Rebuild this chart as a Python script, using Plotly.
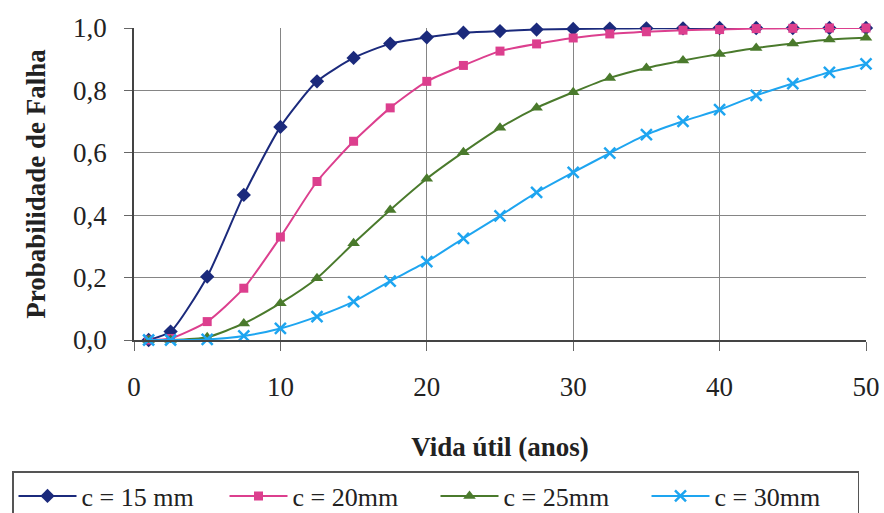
import plotly.graph_objects as go

years = [1, 2.5, 5, 7.5, 10, 12.5, 15, 17.5, 20, 22.5, 25, 27.5, 30, 32.5, 35, 37.5, 40, 42.5, 45, 47.5, 50]

c15 = [0.0, 0.027, 0.203, 0.465, 0.683, 0.829, 0.904, 0.950, 0.970, 0.985, 0.990, 0.995, 0.997,
       0.998, 0.999, 0.999, 1.0, 1.0, 1.0, 1.0, 1.0]
c20 = [0.0, 0.005, 0.059, 0.166, 0.330, 0.508, 0.637, 0.744, 0.829, 0.880, 0.926, 0.949, 0.968,
       0.981, 0.988, 0.993, 0.995, 0.998, 0.999, 1.0, 1.0]
c25 = [0.0, 0.0, 0.009, 0.053, 0.118, 0.198, 0.310, 0.417, 0.517, 0.602, 0.680, 0.744, 0.794,
       0.840, 0.872, 0.896, 0.917, 0.936, 0.950, 0.963, 0.969]
c30 = [0.0, 0.0, 0.002, 0.013, 0.037, 0.075, 0.123, 0.189, 0.251, 0.326, 0.398, 0.473, 0.537,
       0.599, 0.658, 0.701, 0.738, 0.784, 0.822, 0.858, 0.885]

series_names = ["c = 15 mm", "c = 20mm", "c = 25mm", "c = 30mm"]
x_ticks = [0, 10, 20, 30, 40, 50]
y_ticks = [0.0, 0.2, 0.4, 0.6, 0.8, 1.0]

colors = ["#1b2a7c", "#dc3f8e", "#4a7a2c", "#1ea5f0"]
symbols = ["diamond", "square", "triangle-up", "x-thin-open"]
sizes = [11, 9, 11, 11]

fig = go.Figure()
for vals, name, col, sym, sz in zip([c15, c20, c25, c30], series_names, colors, symbols, sizes):
    fig.add_trace(go.Scatter(
        x=years, y=vals, name=name, mode="lines+markers",
        line=dict(color=col, width=2, shape="spline", smoothing=0.6),
        marker=dict(symbol=sym, size=sz, color=col, line=dict(color=col, width=2.5 if sym.startswith("x") else 0)),
        cliponaxis=False,
    ))

font_family = "Liberation Serif"
fs = 27
fig.update_layout(
    width=884, height=513,
    margin=dict(l=134, r=18, t=28, b=173, autoexpand=False),
    paper_bgcolor="white", plot_bgcolor="white",
    separators=",.",
    font=dict(family=font_family, size=fs, color="#222"),
    showlegend=True,
    legend=dict(
        orientation="h", xref="paper", yref="paper",
        x=(12 - 134) / 732, y=(340 - 471) / 312, xanchor="left", yanchor="top",
        bordercolor="#555", borderwidth=1.5, bgcolor="white",
        font=dict(family=font_family, size=26, color="#222"),
        entrywidth=138, itemwidth=58, tracegroupgap=0,
    ),
    xaxis=dict(
        range=[0, 50], tickvals=x_ticks, ticks="outside", ticklen=9, tickcolor="#666",
        showgrid=True, gridcolor="#858585", gridwidth=1,
        showline=True, linecolor="#444", linewidth=1.5,
        zeroline=False, ticklabelstandoff=13,
        title=dict(text="<b>Vida útil (anos)</b>", standoff=36,
                   font=dict(family=font_family, size=fs)),
    ),
    yaxis=dict(
        range=[0, 1], tickvals=y_ticks, tickformat=".1f", ticks="outside", ticklen=8, tickcolor="#666",
        showgrid=True, gridcolor="#858585", gridwidth=1,
        showline=True, linecolor="#444", linewidth=1.5,
        zeroline=False, ticklabelstandoff=12,
        title=dict(text="<b>Probabilidade de Falha</b>", standoff=20,
                   font=dict(family=font_family, size=fs)),
    ),
)

fig.write_html("out.html", config={"displayModeBar": False},
               post_script="document.body.style.margin='0';document.body.style.overflow='hidden';")
